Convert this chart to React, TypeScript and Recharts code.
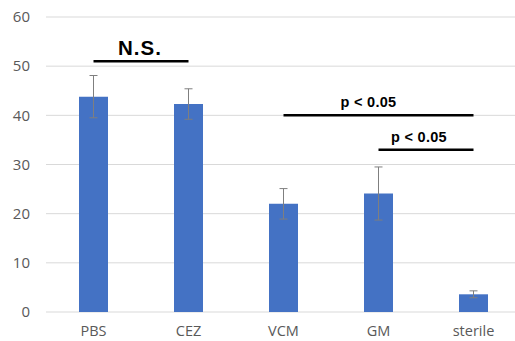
import { BarChart, Bar, ErrorBar, XAxis, YAxis, CartesianGrid, ReferenceLine } from "recharts";

// groups, means and error (± SD)
const groups = ["PBS", "CEZ", "VCM", "GM", "sterile"];
const means = [43.8, 42.3, 22.0, 24.1, 3.6];
const errors = [4.3, 3.1, 3.1, 5.4, 0.7];
const yTicks = [0, 10, 20, 30, 40, 50, 60];

// significance brackets
const brackets = [
  { from: "PBS", to: "CEZ", y: 51, text: "N.S.", size: 20.5, spacing: 1, shift: -1, gap: 6 },
  { from: "VCM", to: "sterile", y: 40, text: "p < 0.05", size: 14.5, spacing: 0.3, shift: -10, gap: 8 },
  { from: "GM", to: "sterile", y: 33, text: "p < 0.05", size: 14.5, spacing: 0.3, shift: -7, gap: 8 },
];

const data = groups.map((g, i) => ({ name: g, value: means[i], err: errors[i] }));

// eslint-disable-next-line @typescript-eslint/no-explicit-any
const bracketLabel = (text: string, size: number, spacing: number, shift: number, gap: number) => (props: any) => {
  const vb = props.viewBox || {};
  const cx = vb.x + (vb.width || 0) / 2 + shift;
  return (
    <text
      x={cx}
      y={vb.y - gap}
      textAnchor="middle"
      fontFamily="'Liberation Sans', Arial, sans-serif"
      fontWeight={700}
      fontSize={size}
      letterSpacing={spacing}
      fill="#000"
    >
      {text}
    </text>
  );
};

export default function App() {
  return (
    <div style={{ position: "fixed", left: 0, top: 0, width: 515, height: 341, overflow: "hidden", background: "#fff" }}>
      <BarChart
        width={521}
        height={350}
        data={data}
        margin={{ top: 17, right: 0, left: 0, bottom: 0 }}
        barSize={29}
      >
        <CartesianGrid vertical={false} stroke="#d9d9d9" />
        <XAxis
          dataKey="name"
          axisLine={false}
          tickLine={false}
          tickMargin={8}
          height={38}
          tick={{ fontSize: 14.5, fill: "#595959", fontFamily: "'Open Sans', sans-serif" }}
        />
        <YAxis
          domain={[0, 60]}
          ticks={yTicks}
          width={46}
          axisLine={false}
          tickLine={false}
          tickMargin={10}
          tick={{ fontSize: 15, fill: "#595959", fontFamily: "'Open Sans', sans-serif" }}
        />
        <Bar dataKey="value" fill="#4472C4" isAnimationActive={false}>
          <ErrorBar dataKey="err" width={4} stroke="#7f7f7f" strokeWidth={1} direction="y" />
        </Bar>
        {brackets.map((b, i) => (
          <ReferenceLine
            key={i}
            segment={[{ x: b.from, y: b.y }, { x: b.to, y: b.y }]}
            stroke="#000"
            strokeWidth={2.5}
            ifOverflow="visible"
            label={bracketLabel(b.text, b.size, b.spacing, b.shift, b.gap)}
          />
        ))}
      </BarChart>
    </div>
  );
}
